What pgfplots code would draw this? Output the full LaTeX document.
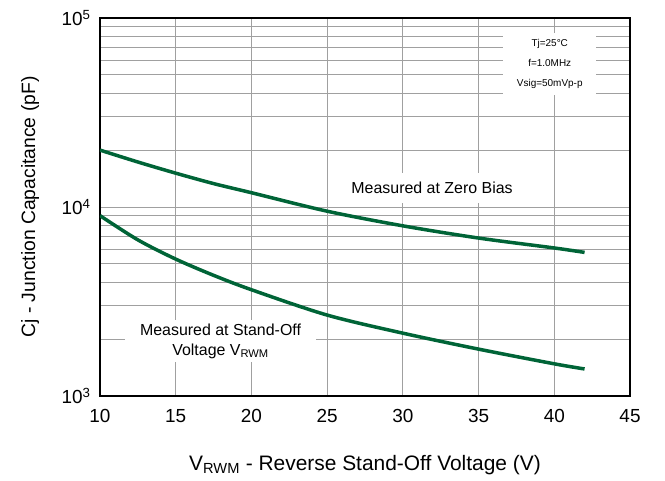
\documentclass[border=0pt]{standalone}
\usepackage{fontspec}
\setmainfont{Liberation Sans}
\usepackage{pgfplots}
\pgfplotsset{compat=1.18}
\definecolor{curvegreen}{RGB}{0,100,55}
\definecolor{gridgray}{RGB}{160,160,160}

\begin{document}
\begin{tikzpicture}
\begin{axis}[
    at={(0,0)}, anchor=south west,
    scale only axis,
    width=530bp, height=378bp,
    ymode=log,
    xmin=10, xmax=45, ymin=1000, ymax=100000,
    xtick={10,15,...,45},
    ytick={1000,10000,100000},
    yticklabels={10\textsuperscript{3},10\textsuperscript{4},10\textsuperscript{5}},
    major tick length=0pt, minor tick length=0pt,
    grid=both,
    major grid style={gridgray, line width=0.8bp},
    minor grid style={gridgray, line width=0.8bp},
    minor x tick num=0,
    axis line style={black, line width=1.8bp},
    tick label style={font=\fontsize{19}{19}\selectfont},
    /pgf/number format/assume math mode=true,
    xticklabel style={yshift=-10bp},
    yticklabel style={xshift=-6bp},
    xlabel={V\textsubscript{RWM} - Reverse Stand-Off Voltage (V)},
    ylabel={Cj - Junction Capacitance (pF)},
    xlabel style={font=\fontsize{21}{21}\selectfont,
                  at={(axis description cs:0.5,-0.1825)}, anchor=center},
    ylabel style={font=\fontsize{19.4}{19.4}\selectfont,
                  at={(axis description cs:-0.132,0.5)}, anchor=center},
]
% zero bias
\addplot[smooth, curvegreen, line width=3.5bp] coordinates {
    (10,20000) (12.5,17300) (15,15100) (17.5,13300) (20,11900)
    (25,9500) (30,7950) (35,6850) (40,6070) (42,5750)
};
% at stand-off voltage
\addplot[smooth, curvegreen, line width=3.5bp] coordinates {
    (10,9000) (12.5,6700) (15,5300) (17.5,4350) (20,3650)
    (25,2680) (30,2150) (35,1770) (40,1480) (42,1390)
};
\node[fill=white, align=center, minimum width=93bp, minimum height=62bp,
      font=\fontsize{10}{20}\selectfont]
    at (axis cs:39.7,57100) {Tj=25°C\\f=1.0MHz\\Vsig=50mVp-p};
\node[fill=white, inner xsep=12bp, minimum height=30bp, font=\fontsize{16}{16}\selectfont]
    at (axis cs:31.93,12600) {Measured at Zero Bias};
\node[fill=white, align=center, minimum width=191bp, minimum height=38bp,
      font=\fontsize{16}{20}\selectfont]
    at (axis cs:17.96,1954) {Measured at Stand-Off\\Voltage V\textsubscript{RWM}};
\end{axis}
\pgfresetboundingbox
\path (-100bp,-85bp) rectangle (565bp,396bp);
\end{tikzpicture}
\end{document}
